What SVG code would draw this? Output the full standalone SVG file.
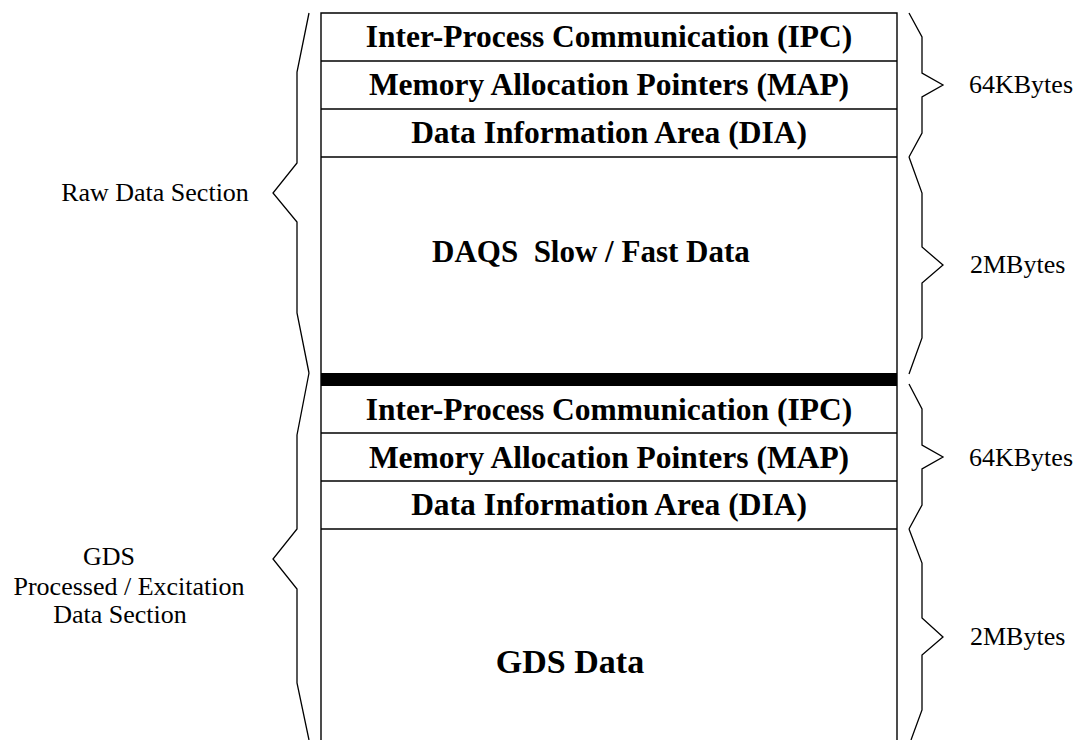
<svg xmlns="http://www.w3.org/2000/svg" width="1080" height="740" viewBox="0 0 1080 740">
<style>
.ln{stroke:#000;stroke-width:1.4;fill:none}
.br{stroke:#000;stroke-width:1.3;fill:none;stroke-linejoin:miter}
.b{font-family:"Liberation Serif","Times New Roman",serif;font-weight:bold;font-size:31.5px;fill:#000;text-anchor:middle}
.r{font-family:"Liberation Serif","Times New Roman",serif;font-size:26px;fill:#000}
</style>
<rect width="1080" height="740" fill="#fff"/>
<g id="memory-box">
<path class="ln" d="M321,740 V13 H897 V740"/>
<line class="ln" x1="321" y1="61" x2="897" y2="61"/>
<line class="ln" x1="321" y1="109" x2="897" y2="109"/>
<line class="ln" x1="321" y1="157" x2="897" y2="157"/>
<rect x="321" y="373" width="576" height="13" fill="#000"/>
<line class="ln" x1="321" y1="433" x2="897" y2="433"/>
<line class="ln" x1="321" y1="481" x2="897" y2="481"/>
<line class="ln" x1="321" y1="529" x2="897" y2="529"/>
</g>
<g id="raw-ipc"><text class="b" x="609" y="47">Inter-Process Communication (IPC)</text></g>
<g id="raw-map"><text class="b" x="609" y="95">Memory Allocation Pointers (MAP)</text></g>
<g id="raw-dia"><text class="b" x="609" y="143">Data Information Area (DIA)</text></g>
<g id="raw-data"><text class="b" x="432" y="262" style="text-anchor:start;font-size:31px" xml:space="preserve">DAQS  Slow / Fast Data</text></g>
<g id="gds-ipc"><text class="b" x="609" y="420">Inter-Process Communication (IPC)</text></g>
<g id="gds-map"><text class="b" x="609" y="468">Memory Allocation Pointers (MAP)</text></g>
<g id="gds-dia"><text class="b" x="609" y="515">Data Information Area (DIA)</text></g>
<g id="gds-data"><text class="b" x="570" y="673" style="font-size:34px">GDS Data</text></g>
<g id="braces">
<path class="br" d="M309,13 L297,72 V163 L273,193 L297,222 V313 L309,373"/>
<path class="br" d="M309,373 L297,435 V529 L273,559 L297,589 V683 L309,740"/>
<path class="br" d="M909,13 L922,37 V73 L943,85 L922,97 V133 L909,157"/>
<path class="br" d="M909,157 L922,193 V247 L943,265 L922,283 V338 L909,374"/>
<path class="br" d="M909,384 L922,409 V445 L943,457 L922,469 V505 L909,529"/>
<path class="br" d="M909,529 L922,563 V618 L943,637 L922,655 V710 L911,740"/>
</g>
<g id="labels">
<text class="r" x="155" y="201" text-anchor="middle">Raw Data Section</text>
<text class="r" x="109" y="565" text-anchor="middle">GDS</text>
<text class="r" x="129" y="595" text-anchor="middle">Processed / Excitation</text>
<text class="r" x="120" y="623" text-anchor="middle">Data Section</text>
<text class="r" x="969" y="93">64KBytes</text>
<text class="r" x="970" y="273">2MBytes</text>
<text class="r" x="969" y="466">64KBytes</text>
<text class="r" x="970" y="645">2MBytes</text>
</g>
</svg>
